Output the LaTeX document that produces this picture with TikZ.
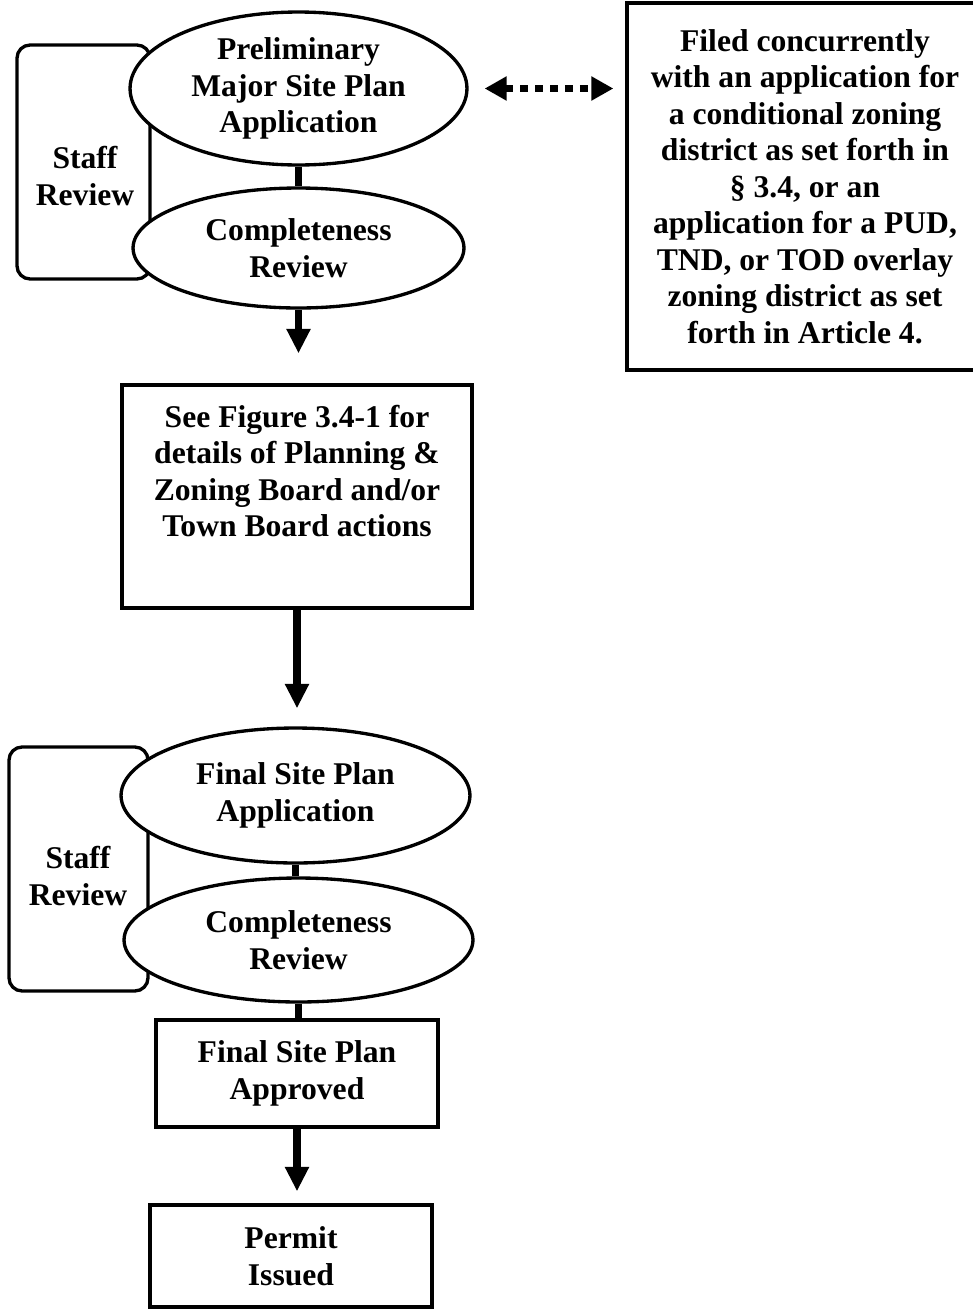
\documentclass[tikz,border=0pt]{standalone}
\usepackage{fontspec}
\setmainfont{Liberation Serif}
\usetikzlibrary{shapes.geometric}
\usetikzlibrary{arrows.meta}

\begin{document}
\begin{tikzpicture}[x=0.02cm,y=-0.02cm,
	txt/.style={font=\fontsize{18}{20.75}\selectfont\bfseries,align=center},
	ovalnode/.style={txt,draw,ellipse,line width=1.9pt,fill=white,inner sep=0pt},
	plainbox/.style={txt,draw,rectangle,line width=1.9pt,fill=white,inner sep=0pt},
	staffbox/.style={draw,rectangle,rounded corners=0.26cm,line width=1.9pt},
	joinline/.style={line width=4.3pt},
	flowarrow/.style={line width=4.3pt,-{Triangle[length=14pt,width=13pt]}},
	dotarrow/.style={line width=4.3pt,dash pattern=on 4.5pt off 4pt,{Triangle[length=12.5pt,width=13pt]}-{Triangle[length=12.5pt,width=13pt]}}]
						\useasboundingbox (0,0) rectangle (973,1309);
						\node[staffbox,minimum width=2.66cm,minimum height=4.68cm] (staffA) at (83.5,162) {};
						\node[txt] (staffAtext) at (85,176) {Staff\\Review};
						\node[ovalnode,minimum width=6.74cm,minimum height=3.06cm] (prelim) at (298.5,88.5) {Preliminary\\Major Site Plan\\Application};
						\node[ovalnode,minimum width=6.62cm,minimum height=2.4cm] (compA) at (298.5,248) {Completeness\\Review};
						\node[plainbox,minimum width=7.12cm,minimum height=7.34cm] (filed) at (805,186.5) {Filed concurrently\\with an application for\\a conditional zoning\\district as set forth in\\§ 3.4, or an\\application for a PUD,\\TND, or TOD overlay\\zoning district as set\\forth in Article 4.};
						\node[plainbox,minimum width=7cm,minimum height=4.46cm] (seefig) at (297,496.5) {};
						\node[txt] (seefigtext) at (297,471) {See Figure 3.4-1 for\\details of Planning \&\\Zoning Board and/or\\Town Board actions};
						\node[staffbox,minimum width=2.78cm,minimum height=4.88cm] (staffB) at (78.5,869) {};
						\node[txt] (staffBtext) at (78,876) {Staff\\Review};
						\node[ovalnode,minimum width=6.98cm,minimum height=2.7cm] (finalA) at (295.5,795.5) {Final Site Plan\\Application};
						\node[ovalnode,minimum width=6.98cm,minimum height=2.48cm] (compB) at (298.5,940) {Completeness\\Review};
						\node[plainbox,minimum width=5.64cm,minimum height=2.14cm] (approved) at (297,1073.5) {Final Site Plan\\Approved};
						\node[plainbox,minimum width=5.64cm,minimum height=2.04cm] (permit) at (291,1256) {Permit\\Issued};
						\draw[joinline] (prelim.south) -- (compA.north);
						\draw[flowarrow,shorten >=0.6cm] (compA.south) -- (compA.south |- seefig.north);
						\draw[flowarrow,shorten >=0.36cm] (seefig.south) -- (seefig.south |- finalA.north);
						\draw[joinline] (finalA.south) -- (finalA.south |- compB.north);
						\draw[joinline] (compB.south) -- (compB.south |- approved.north);
						\draw[flowarrow,shorten >=0.24cm] (approved.south) -- (approved.south |- permit.north);
						\draw[dotarrow,shorten <=0.32cm,shorten >=0.24cm] (prelim.east) -- (prelim.east -| filed.west);
					\end{tikzpicture}
\end{document}
